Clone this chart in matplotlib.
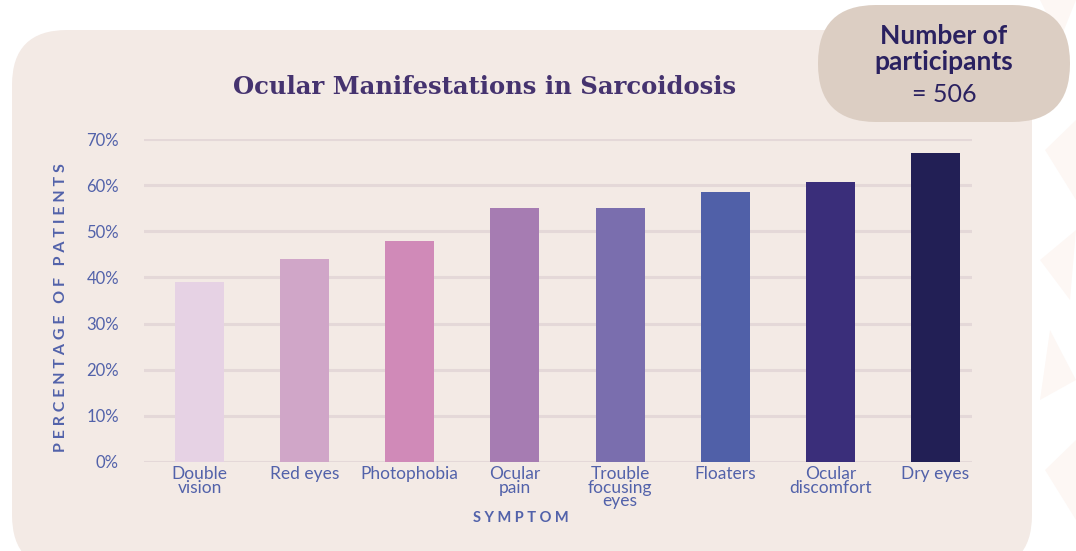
import matplotlib
matplotlib.use("Agg")
import matplotlib.pyplot as plt
import numpy as np
from matplotlib.patches import FancyBboxPatch, Polygon

symptoms = ["Double\nvision", "Red eyes", "Photophobia", "Ocular\npain",
            "Trouble\nfocusing\neyes", "Floaters", "Ocular\ndiscomfort", "Dry eyes"]
percent = [39, 44, 48, 55, 55, 58.5, 60.7, 67]
bar_colors = ["#e6d2e4", "#d0a6c8", "#d08ab8", "#a67cb2",
              "#7a6eae", "#5060a8", "#3a2e7a", "#221f55"]
yticks = [0, 10, 20, 30, 40, 50, 60, 70]
participants = 506

panel_color = "#f3eae5"
grid_color = "#e4d8d8"
label_color = "#5262aa"
title_color = "#45336f"

W, H = 1076, 551
fig = plt.figure(figsize=(W / 100, H / 100), dpi=100, facecolor="white")

# background layer in pixel coords
bg = fig.add_axes([0, 0, 1, 1])
bg.set_xlim(0, W)
bg.set_ylim(H, 0)
bg.axis("off")

# faint triangles on the right edge
tri = [
    [(1040, 0), (1076, 0), (1060, 40)],
    [(1045, 150), (1076, 120), (1076, 200)],
    [(1040, 260), (1076, 230), (1070, 300)],
    [(1050, 330), (1076, 380), (1040, 400)],
    [(1045, 470), (1076, 440), (1076, 520)],
]
for t in tri:
    bg.add_patch(Polygon(t, closed=True, color="#fdf7f4", lw=0))

bg.add_patch(FancyBboxPatch((12 + 55, 30 + 55), 1020 - 110, 540 - 110,
                            boxstyle="round,pad=55", fc=panel_color, ec="none"))
bg.add_patch(FancyBboxPatch((818 + 58, 5 + 58), 252 - 116, 117 - 116,
                            boxstyle="round,pad=58", fc="#dccec3", ec="none"))

bg.text(944, 36, "Number of", ha="center", va="center",
        fontsize=19, fontweight="bold", color="#2a2160", family="Lato")
bg.text(944, 62, "participants", ha="center", va="center",
        fontsize=19, fontweight="bold", color="#2a2160", family="Lato")
bg.text(944, 94, f"= {participants}", ha="center", va="center",
        fontsize=18, color="#2a2160", family="Lato")

bg.text(485, 87, "Ocular Manifestations in Sarcoidosis", ha="center", va="center",
        fontsize=17.5, fontweight="bold", color=title_color, family="DejaVu Serif")

bg.text(521, 518, "S Y M P T O M", ha="center", va="center", fontsize=10.5,
        fontweight="bold", color=label_color, family="Lato")
bg.text(61, 308, "P E R C E N T A G E   O F   P A T I E N T S", ha="center",
        va="center", rotation=90, fontsize=11.5, fontweight="bold",
        color=label_color, family="Lato")

# chart axes: left 144, right 972, 0% at y=462, 70% at y=139
ax_l, ax_r = 144, 972
ax_top, ax_bot = 139, 462
ax = fig.add_axes([ax_l / W, 1 - ax_bot / H, (ax_r - ax_l) / W, (ax_bot - ax_top) / H])
ax.set_facecolor("none")

x = np.arange(len(symptoms))
ax.bar(x, percent, width=0.466, color=bar_colors, zorder=3)
ax.set_xlim(-0.528, 7.347)
ax.set_ylim(0, 70)
ax.set_yticks(yticks)
ax.set_yticklabels([f"{v}%" for v in yticks])
ax.yaxis.grid(True, color=grid_color, lw=2.2, zorder=0)
for s in ax.spines.values():
    s.set_visible(False)
ax.tick_params(axis="both", length=0, labelcolor=label_color)
ax.tick_params(axis="y", pad=18, labelsize=12)
ax.set_xticks(x)
ax.set_xticklabels(symptoms, linespacing=0.8, va="top")
ax.tick_params(axis="x", pad=3, labelsize=12.5)
for lab in ax.get_xticklabels() + ax.get_yticklabels():
    lab.set_family("Lato")

fig.savefig("out.png", dpi=100, facecolor="white")
